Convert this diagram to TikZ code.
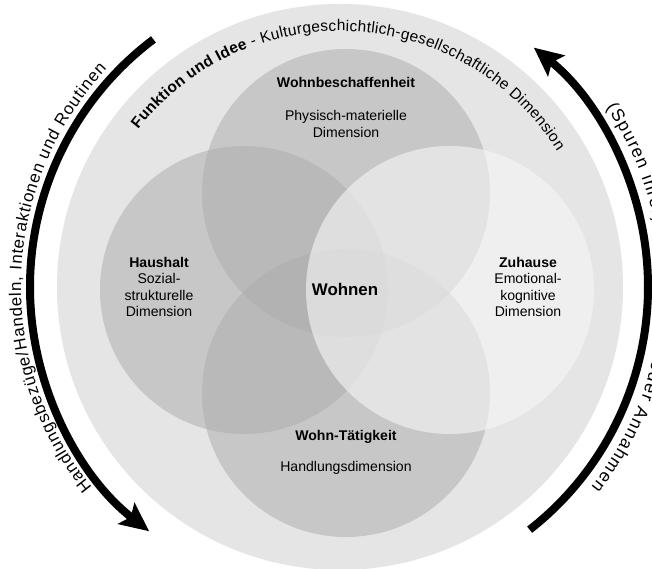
\documentclass[tikz,border=0pt]{standalone}
\usepackage{fontspec}
\setmainfont{Liberation Sans}
\usetikzlibrary{arrows.meta,calc,decorations.text}

\definecolor{ringgray}{gray}{0.9}
\definecolor{venngray}{gray}{0.68}
\definecolor{homegray}{gray}{0.97}

\newcommand{\ringfont}{\fontsize{11}{13}\selectfont}
\newcommand{\ringbold}{\ringfont\bfseries}
\newcommand{\sidefont}{\fontsize{12}{14}\selectfont}
\newcommand{\tracefont}{\fontsize{12.5}{14}\selectfont}

\tikzset{
  venn/.style={fill=venngray, fill opacity=0.53},
  home/.style={fill=homegray, fill opacity=0.6},
  title/.style={font=\fontsize{10}{12}\selectfont\bfseries, inner sep=0pt},
  desc/.style={font=\fontsize{10}{11.6}\selectfont, align=center, inner sep=0pt},
  core/.style={font=\fontsize{12}{14}\selectfont\bfseries, inner sep=0pt},
  bigarrow/.style={line width=0.2cm, -{Stealth[length=0.72cm, width=0.66cm, inset=0.14cm]}},
  arclabel/.style={decorate, decoration={text along path, text align={fit to path}, text={#1}}}
}

\begin{document}
\begin{tikzpicture}[x=0.025cm, y=0.025cm]

  \path[use as bounding box, fill=white] (0,0) rectangle (652,569);
  \coordinate (C) at (340,282);

  % Outer ring
  \fill[ringgray] (C) circle[radius=283];

  % Venn circles
  \foreach \cx/\cy in {346/376, 244/279, 346/176}{
    \fill[venn] (\cx,\cy) circle[radius=144];
  }
  \fill[home] (450,279) circle[radius=144];

  % Labels
  \node[title] (wbtitle) at (346,487) {Wohnbeschaffenheit};
  \node[desc] (wbdesc) at (346,445) {Physisch-materielle\\Dimension};
  \node[desc] (haushalt) at (159,282) {\textbf{Haushalt}\\Sozial-\\strukturelle\\Dimension};
  \node[desc] (zuhause) at (528,282) {\textbf{Zuhause}\\Emotional-\\kognitive\\Dimension};
  \node[core] (wohnen) at (345,280) {Wohnen};
  \node[title] (wttitle) at (346,132) {Wohn-Tätigkeit};
  \node[desc] (wtdesc) at (346,101) {Handlungsdimension};

  % Ring text
  \path[arclabel={|\ringbold|Funktion und Idee|\ringfont| - Kulturgeschichtlich-gesellschaftliche Dimension}]
    ($(C)+(142:256)$) arc[start angle=142, end angle=32, radius=256];

  % Arrows
  \draw[bigarrow] ($(C)+(127:310)$) arc[start angle=127, end angle=232, radius=310];
  \draw[bigarrow] ($(C)+(-52:308)$) arc[start angle=-52, end angle=51, radius=308];

  % Arrow texts
  \path[arclabel={|\sidefont|Handlungsbezüge/Handeln, Interaktionen und Routinen}]
    ($(C)+(219:319)$) arc[start angle=219, end angle=137, radius=319];
  \path[arclabel={|\tracefont|(Spuren ihrer) Vorstellungen oder Annahmen}]
    ($(C)+(34:321)$) arc[start angle=34, end angle=-38.5, radius=321];

\end{tikzpicture}
\end{document}
